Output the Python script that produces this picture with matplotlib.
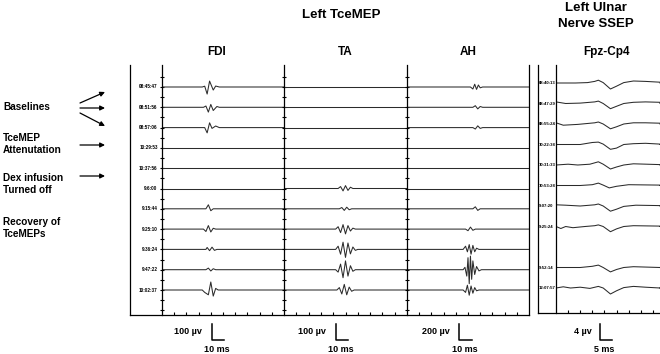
import matplotlib
matplotlib.use("Agg")
import matplotlib.pyplot as plt

plt.rcParams['font.family'] = ['Liberation Sans', 'DejaVu Sans']

# --- data -------------------------------------------------------------------
mep_times = ['08:45:47', '08:51:56', '08:57:06', '10:29:53', '10:37:56', '9:6:00',
             '9:15:44', '9:25:10', '9:36:24', '9:47:22', '10:02:37']
ssep_times = ['08:40:13', '08:47:29', '08:55:24', '10:22:38', '10:31:33', '10:53:28',
              '9:07:20', '9:25:24', '9:52:14', '12:07:57']
ssep_slots = [0, 1, 2, 3, 4, 5, 6, 7, 9, 10]   # one slot left empty

# key points of each trace: (ms, µV); empty list = flat baseline
fdi = [
    [(33, 0), (35, 5), (37, -44), (39, 37), (42, -19), (44, 6), (47, 0)],
    [(34, 0), (36, 8), (38, -30), (40, 18), (42, -20), (45, 5), (47, 0)],
    [(35, 0), (37, -33), (39, 30), (41, -5), (44, 10), (47, 0)],
    [], [], [],
    [(36, 0), (38, 25), (40, -12), (42, 0)],
    [(34, 0), (36, -15), (38, 22), (40, -18), (42, 5), (44, 0)],
    [(36, 0), (37, 12), (39, -8), (41, 14), (43, -6), (45, 0)],
    [(36, 0), (38, 10), (40, -8), (42, 6), (44, 0)],
    [(33, 0), (35, -15), (38, -30), (40, 50), (42, -38), (44, 10), (46, 0)],
]
ta = [
    [], [], [], [], [],
    [(44, 0), (46, 12), (48, -15), (50, 18), (52, -12), (54, 8), (56, 0)],
    [(45, 0), (47, 8), (49, -10), (51, 10), (53, -6), (55, 0)],
    [(42, 0), (44, 15), (46, -22), (48, 28), (50, -30), (52, 22), (54, -12), (56, 6), (58, 0)],
    [(42, 0), (44, 20), (46, -30), (48, 45), (50, -50), (52, 40), (54, -28), (56, 15), (58, -6), (60, 0)],
    [(42, 0), (44, -15), (46, 35), (48, -50), (50, 55), (52, -40), (54, 25), (56, -10), (58, 0)],
    [(43, 0), (45, 15), (47, -25), (49, 35), (51, -30), (53, 18), (55, -8), (57, 0)],
]
ah = [
    [(52, 0), (54, -25), (55.5, 35), (57, -30), (58.5, 25), (60, -10), (62, 0)],
    [(54, 0), (56, 20), (58, -20), (60, 10), (62, 0)],
    [(54, 0), (56, -18), (58, 22), (60, -10), (62, 0)],
    [], [], [],
    [(54, 0), (56, 25), (58, -20), (60, 0)],
    [(48, 0), (50, -20), (52, 25), (54, -15), (56, 0)],
    [(46, 0), (48, 40), (49.5, -30), (51, 60), (52.5, -60), (54, 50), (55.5, -30), (57, 15), (59, 0)],
    [(46, 0), (47.5, 30), (49, -80), (50, 150), (51, -175), (52, 170), (53, -120), (54, 110),
     (55.5, -60), (57, 40), (59, -15), (61, 0)],
    [(46, 0), (48, -30), (49.5, 60), (51, -65), (52.5, 50), (54, -40), (55.5, 30), (57, -10), (59, 0)],
]
ssep = [
    [(0, 0), (8, 0), (13, 0.1), (16, 0.4), (17.5, 0.7), (19.5, 0.1), (22.5, -1.5), (25, -0.8),
     (28, 0.1), (32, 0.5), (37, 0.4), (43, 0.2)],
    [(0, 0.4), (4, 0), (10, 0.1), (16, 0.4), (17.5, 0.6), (19.5, 0), (22.5, -1.3), (25, -0.7),
     (28, 0), (32, 0.3), (37, 0.4), (43, 0.3)],
    [(0, 0.3), (3, -0.3), (9, -0.1), (16, 0.3), (17.5, 0.5), (19.5, 0), (22.5, -1.2), (25, -0.7),
     (28, 0), (32, 0.3), (37, 0.3), (43, 0.2)],
    [(0, 0), (10, 0), (15, 0.5), (17.5, 0.6), (19.5, 0.1), (22.5, -1.2), (25, -0.9), (28, 0),
     (32, 0.2), (37, 0.3), (43, 0.1)],
    [(0, 0), (5, 0.2), (9, 0), (14, 0.2), (17.5, 0.8), (19.5, 0.2), (22.5, -1.0), (25, -0.5),
     (28, 0), (32, 0.3), (43, 0.1)],
    [(0, 0), (10, 0), (15, 0.2), (17.5, 0.6), (19.5, 0.1), (22, -0.6), (25, -0.2), (30, 0.2),
     (43, 0.1)],
    [(0, 0.3), (4, 0.2), (10, 0), (16, 0.3), (17.5, 0.5), (19.5, 0), (22.5, -1.3), (25, -0.8),
     (28, -0.1), (33, 0.2), (43, 0.1)],
    [(0, 0), (2, -0.5), (4, 0), (7, -0.3), (12, 0), (16, 0.2), (17.5, 0.4), (19.5, 0), (22.5, -1.3),
     (25, -0.6), (28, 0), (32, 0.2), (43, 0.1)],
    [(0, 0), (10, 0), (15, 0.3), (17.5, 0.6), (19.5, 0), (22.5, -1.1), (25, -0.5), (28, 0),
     (32, 0.2), (43, 0)],
    [(0, 0), (3, 0.3), (6, 0), (10, 0.2), (14, -0.1), (17.5, 0.4), (19.5, 0), (22.5, -1.5),
     (25, -0.7), (28, 0.1), (32, 0.4), (37, 0.2), (43, 0)],
]

muscles = ['FDI', 'TA', 'AH']
mep_scale_uv = [100, 100, 200]       # vertical calibration bars
mep_scale_ms = 10
ssep_scale_uv = 4
ssep_scale_ms = 5

W, H = 660, 354
ROW_PX = 20.3       # spacing between sweeps, pixels
BAR_PX = 16         # height of calibration bar


def box(x0, x1, y_top, y_bot):
    return [x0 / W, 1 - y_bot / H, (x1 - x0) / W, (y_bot - y_top) / H]


def draw_trace(ax, row, pts, uv_per_row, t_end):
    xs = [0] + [p[0] for p in pts] + [t_end]
    ys = [0] + [p[1] for p in pts] + [0]
    ax.plot(xs, [row - v / uv_per_row for v in ys], color='#2b2b2b', lw=0.75)


fig = plt.figure(figsize=(W / 100, H / 100), dpi=100)

# background axes in pixel units for labels and arrows
bg = fig.add_axes([0, 0, 1, 1])
bg.set_xlim(0, W)
bg.set_ylim(H, 0)
bg.axis('off')

# outer frames
for x0, x1, yb in [(130, 529, 315), (538, 700, 313)]:
    fr = fig.add_axes(box(x0, x1, 65, yb))
    fr.set_xticks([])
    fr.set_yticks([])
    fr.patch.set_alpha(0)
    fr.spines['top'].set_visible(False)
    fr.spines['right'].set_visible(x1 < W)
    for s in fr.spines.values():
        s.set_linewidth(0.9)

# MEP panels
panel_px = [(162, 284), (284, 407), (407, 529)]
ylo = (315 - 87) / ROW_PX
yhi = (65 - 87) / ROW_PX
for k, (name, traces) in enumerate(zip(muscles, [fdi, ta, ah])):
    x0, x1 = panel_px[k]
    ax = fig.add_axes(box(x0, x1, 65, 315))
    ax.patch.set_alpha(0)
    ax.set_xlim(0, 100)
    ax.set_ylim(ylo, yhi)
    uv_per_row = mep_scale_uv[k] * ROW_PX / BAR_PX
    for i, pts in enumerate(traces):
        draw_trace(ax, i, pts, uv_per_row, 100)
    for s in ['top', 'right', 'bottom']:
        ax.spines[s].set_visible(False)
    ax.spines['left'].set_linewidth(0.9)
    ax.set_xticks(range(10, 100, 10))
    ax.set_yticks([i * 0.5 for i in range(-1, 23)])
    ax.tick_params(axis='x', direction='in', length=2.5, width=0.8, labelbottom=False, pad=0)
    ax.tick_params(axis='y', direction='inout', length=3, width=0.8, labelleft=False)
    ax.text(45 if k == 0 else 50, -1.7, name, ha='center', va='center', fontsize=8.5,
            fontweight='bold', clip_on=False)
    # calibration bar
    t0 = 41 + k
    yb = (340 - 87) / ROW_PX
    ax.plot([t0, t0, t0 + mep_scale_ms], [yb - BAR_PX / ROW_PX, yb, yb],
            color='k', lw=1.1, clip_on=False)
    ax.text(t0 - 8, yb - 0.4, f'{mep_scale_uv[k]} µv', ha='right', va='center',
            fontsize=6.5, fontweight='bold', clip_on=False)
    ax.text(t0 + 4, yb + 0.45, f'{mep_scale_ms} ms', ha='center', va='center',
            fontsize=6.5, fontweight='bold', clip_on=False)
    if k == 0:
        for i, lab in enumerate(mep_times):
            ax.text(-3.5, i, lab, ha='right', va='center', fontsize=3.3,
                    fontweight='bold', clip_on=False)

# SSEP panel
SROW = 20.5
sx = fig.add_axes(box(556, 660, 65, 313))
sx.patch.set_alpha(0)
s_ms_per_px = ssep_scale_ms / 12.1
sx.set_xlim(0, 104 * s_ms_per_px)
sx.set_ylim((313 - 83) / SROW, (65 - 83) / SROW)
s_uv_per_row = ssep_scale_uv * SROW / BAR_PX
for slot, pts, lab in zip(ssep_slots, ssep, ssep_times):
    draw_trace(sx, slot, pts, s_uv_per_row, 104 * s_ms_per_px)
    sx.text(-17 * s_ms_per_px, slot, lab, ha='left', va='center', fontsize=3.1,
            fontweight='bold', clip_on=False)
for s in ['top', 'right', 'bottom']:
    sx.spines[s].set_visible(False)
sx.spines['left'].set_linewidth(0.9)
sx.set_xticks([i * ssep_scale_ms for i in range(1, 9)])
sx.set_yticks([])
sx.tick_params(axis='x', direction='in', length=2.5, width=0.8, labelbottom=False)
sx.text(50 * s_ms_per_px, (52 - 83) / SROW, 'Fpz-Cp4', ha='center', va='center',
        fontsize=8.5, fontweight='bold', clip_on=False)
st0 = 44 * s_ms_per_px
syb = (340 - 83) / SROW
sx.plot([st0, st0, st0 + ssep_scale_ms], [syb - BAR_PX / SROW, syb, syb],
        color='k', lw=1.1, clip_on=False)
sx.text(st0 - 3.5, syb - 0.4, f'{ssep_scale_uv} µv', ha='right', va='center',
        fontsize=6.5, fontweight='bold', clip_on=False)
sx.text(st0 + 1.8, syb + 0.45, f'{ssep_scale_ms} ms', ha='center', va='center',
        fontsize=6.5, fontweight='bold', clip_on=False)

# titles
bold = dict(fontweight='bold', ha='center', va='center')
bg.text(341, 15, 'Left TceMEP', fontsize=9.5, **bold)
bg.text(596, 8, 'Left Ulnar', fontsize=9.5, **bold)
bg.text(596, 24, 'Nerve SSEP', fontsize=9.5, **bold)

# left-hand annotations
lab = dict(fontweight='bold', ha='left', va='center', fontsize=7.2)
bg.text(3, 107, 'Baselines', **lab)
bg.text(3, 138, 'TceMEP', **lab)
bg.text(3, 150, 'Attenutation', **lab)
bg.text(3, 178, 'Dex infusion', **lab)
bg.text(3, 190, 'Turned off', **lab)
bg.text(3, 222, 'Recovery of', **lab)
bg.text(3, 234, 'TceMEPs', **lab)

arrow = dict(arrowstyle='-|>', lw=0.9, color='k', mutation_scale=7,
             shrinkA=0, shrinkB=0)
for (xa, ya), (xb, yb_) in [((80, 103), (105, 92)), ((80, 108), (105, 108)),
                              ((80, 113), (105, 126)), ((80, 145), (105, 145)),
                              ((80, 176), (105, 176))]:
    bg.annotate('', xy=(xb, yb_), xytext=(xa, ya), arrowprops=arrow)

fig.savefig('out.png', dpi=100)
